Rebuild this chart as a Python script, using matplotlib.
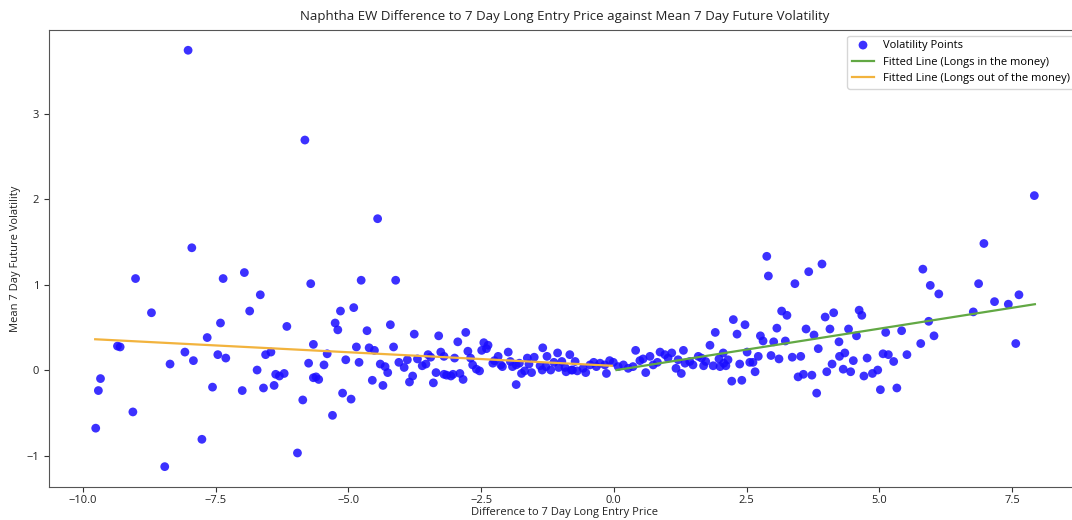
import matplotlib
matplotlib.use("Agg")
import matplotlib.pyplot as plt

plt.rcParams['font.family'] = ['Open Sans', 'DejaVu Sans']

x_diff = [-9.76, -9.71, -9.67, -9.35, -9.30, -9.06, -9.01, -8.71, -8.46, -8.36, -8.08, -8.02, -7.95, -7.92,
          -7.76, -7.66, -7.56, -7.46, -7.41, -7.36, -7.31, -7.00, -6.96, -6.86, -6.72, -6.66, -6.60, -6.56,
          -6.46, -6.40, -6.37, -6.30, -6.21, -6.16, -5.96, -5.86, -5.82, -5.75, -5.71, -5.66, -5.66, -5.61,
          -5.56, -5.46, -5.40, -5.30, -5.25, -5.20, -5.15, -5.11, -5.05, -4.95, -4.90, -4.85, -4.80, -4.76,
          -4.65, -4.61, -4.55, -4.51, -4.45, -4.40, -4.35, -4.31, -4.26, -4.21, -4.15, -4.11, -4.05, -3.95,
          -3.89, -3.85, -3.79, -3.76, -3.70, -3.61, -3.54, -3.50, -3.45, -3.40, -3.35, -3.30, -3.26, -3.20,
          -3.20, -3.15, -3.07, -3.03, -3.00, -2.94, -2.90, -2.84, -2.79, -2.75, -2.70, -2.66, -2.59, -2.53,
          -2.49, -2.45, -2.40, -2.37, -2.28, -2.25, -2.18, -2.13, -2.10, -1.99, -1.95, -1.91, -1.84, -1.84,
          -1.78, -1.74, -1.68, -1.63, -1.60, -1.55, -1.50, -1.39, -1.35, -1.34, -1.28, -1.26, -1.19, -1.13,
          -1.06, -1.04, -0.98, -0.92, -0.90, -0.83, -0.80, -0.78, -0.73, -0.69, -0.58, -0.53, -0.45, -0.38,
          -0.33, -0.26, -0.17, -0.14, -0.08, -0.01,
          0.08, 0.18, 0.27, 0.36, 0.41, 0.49, 0.55, 0.60, 0.68, 0.74, 0.82, 0.87, 0.96, 1.02, 1.09, 1.17,
          1.21, 1.27, 1.31, 1.34, 1.43, 1.49, 1.59, 1.65, 1.69, 1.73, 1.81, 1.87, 1.91, 1.98, 2.00, 2.06,
          2.07, 2.11, 2.15, 2.22, 2.25, 2.32, 2.37, 2.41, 2.47, 2.51, 2.56, 2.62, 2.66, 2.72, 2.76, 2.81,
          2.88, 2.91, 2.96, 3.01, 3.07, 3.11, 3.16, 3.23, 3.26, 3.36, 3.41, 3.47, 3.52, 3.57, 3.62, 3.67,
          3.73, 3.77, 3.82, 3.85, 3.92, 3.98, 4.01, 4.07, 4.11, 4.14, 4.24, 4.25, 4.32, 4.35, 4.42, 4.46,
          4.51, 4.57, 4.62, 4.67, 4.71, 4.77, 4.87, 4.97, 5.02, 5.07, 5.12, 5.17, 5.27, 5.33, 5.42, 5.52,
          5.78, 5.82, 5.93, 5.96, 6.03, 6.12, 6.77, 6.87, 6.97, 7.17, 7.43, 7.57, 7.63, 7.92]

volatility = [-0.68, -0.24, -0.10, 0.28, 0.27, -0.49, 1.07, 0.67, -1.13, 0.07, 0.21, 3.74, 1.43, 0.11,
              -0.81, 0.38, -0.20, 0.18, 0.55, 1.07, 0.14, -0.24, 1.14, 0.69, 0.00, 0.88, -0.21, 0.18,
              0.21, -0.18, -0.05, -0.07, -0.04, 0.51, -0.97, -0.35, 2.69, 0.08, 1.01, 0.30, -0.09, -0.08,
              -0.11, 0.06, 0.19, -0.53, 0.55, 0.47, 0.69, -0.27, 0.12, -0.34, 0.73, 0.27, 0.09, 1.05,
              0.46, 0.26, -0.12, 0.23, 1.77, 0.07, -0.18, 0.04, -0.03, 0.53, 0.27, 1.05, 0.09, 0.03,
              0.12, -0.14, -0.07, 0.42, 0.13, 0.05, 0.07, 0.18, 0.15, -0.15, -0.03, 0.40, 0.21, 0.16,
              -0.05, -0.06, -0.07, -0.05, 0.14, 0.33, -0.04, -0.11, 0.44, 0.22, 0.14, 0.06, 0.01, -0.01,
              0.23, 0.32, 0.25, 0.29, 0.08, 0.11, 0.16, 0.06, 0.04, 0.21, 0.10, 0.04, 0.06, -0.17,
              0.08, -0.04, -0.01, 0.14, 0.07, -0.03, 0.15, 0.05, 0.00, 0.26, 0.04, 0.16, 0.00, 0.09,
              0.20, 0.03, 0.10, 0.03, -0.02, 0.18, 0.00, 0.00, 0.10, -0.01, 0.02, -0.03, 0.06, 0.09,
              0.04, 0.08, 0.06, -0.04, 0.11, 0.09,
              0.04, 0.06, 0.02, 0.04, 0.23, 0.11, 0.13, -0.03, 0.16, 0.06, 0.09, 0.21, 0.18, 0.14, 0.20, 0.02,
              0.12, -0.04, 0.23, 0.08, 0.10, 0.06, 0.16, 0.14, 0.05, 0.10, 0.29, 0.05, 0.44, 0.13, 0.04, 0.20,
              0.08, 0.05, 0.12, -0.13, 0.59, 0.42, 0.07, -0.12, 0.53, 0.21, 0.09, 0.09, -0.02, 0.16, 0.40, 0.34,
              1.33, 1.10, 0.17, 0.33, 0.49, 0.13, 0.69, 0.34, 0.64, 0.15, 1.01, -0.08, 0.16, -0.05, 0.48, 1.15,
              -0.06, 0.41, -0.27, 0.25, 1.24, 0.62, -0.02, 0.48, 0.07, 0.67, 0.33, 0.16, 0.01, 0.20, 0.48, -0.02,
              0.11, 0.40, 0.70, 0.64, -0.07, 0.14, -0.04, 0.00, -0.23, 0.19, 0.44, 0.18, 0.10, -0.21, 0.46, 0.18,
              0.31, 1.18, 0.57, 0.99, 0.40, 0.89, 0.68, 1.01, 1.48, 0.80, 0.77, 0.31, 0.88, 2.04]

itm_line_x = [0.05, 7.93]
itm_line_y = [0.00, 0.77]
otm_line_x = [-9.77, -0.04]
otm_line_y = [0.36, 0.05]

fig = plt.figure(figsize=(10.72, 5.20), dpi=100)
ax = fig.add_axes([49 / 1072, 33 / 520, 1031 / 1072, 457 / 520])

ax.scatter(x_diff, volatility, s=40, color='#1a0dff', alpha=0.85, edgecolors='none',
           label='Volatility Points', zorder=2)
ax.plot(itm_line_x, itm_line_y, color='#62a844', lw=1.6, label='Fitted Line (Longs in the money)', zorder=3)
ax.plot(otm_line_x, otm_line_y, color='#f2b33d', lw=1.6, label='Fitted Line (Longs out of the money)', zorder=3)

ax.set_xlim(-10.64, 8.78)
ax.set_ylim(-1.368, 3.977)
ax.set_xticks([-10.0, -7.5, -5.0, -2.5, 0.0, 2.5, 5.0, 7.5])
ax.set_yticks([-1, 0, 1, 2, 3])
ax.tick_params(labelsize=8, colors='#333333', labelcolor='#222222')
ax.tick_params(axis='x', pad=2.5)
for s in ax.spines.values():
    s.set_color('#555555')

ax.set_title('Naphtha EW Difference to 7 Day Long Entry Price against Mean 7 Day Future Volatility',
             fontsize=9.5, color='#222222', pad=7)
ax.set_xlabel('Difference to 7 Day Long Entry Price', fontsize=8, color='#222222', labelpad=0.5)
ax.set_ylabel('Mean 7 Day Future Volatility', fontsize=8, color='#222222')
ax.legend(loc='upper right', fontsize=8, framealpha=0.8)

fig.savefig('out.png', dpi=100)
